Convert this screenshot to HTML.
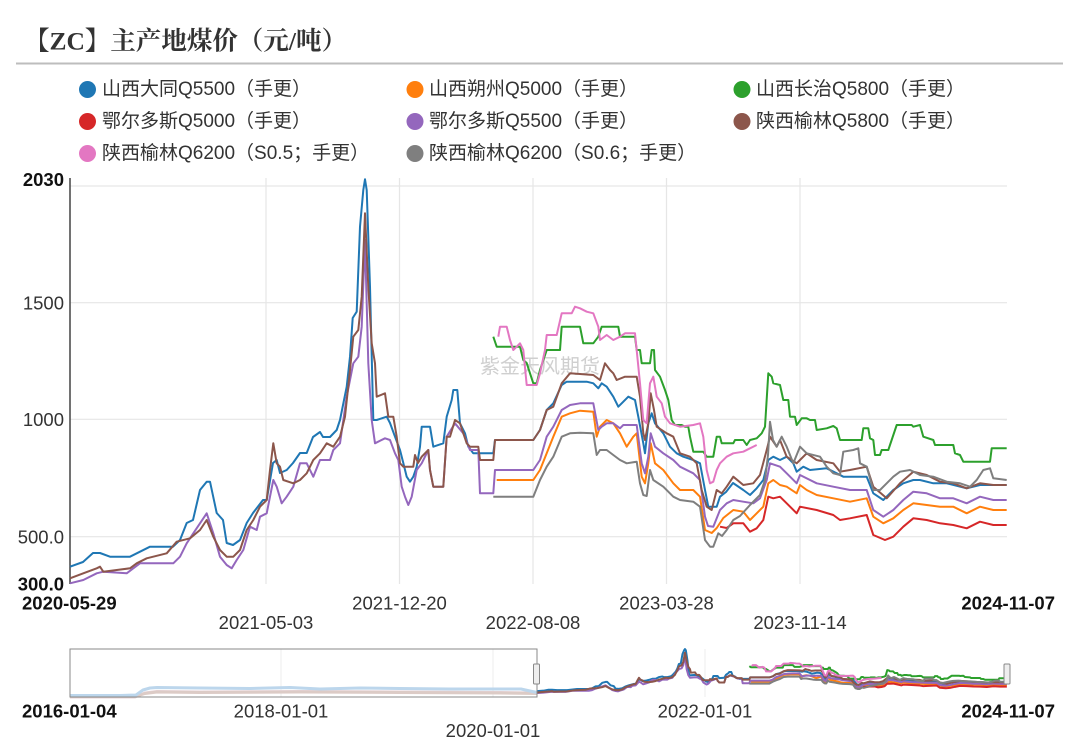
<!DOCTYPE html>
<html><head><meta charset="utf-8"><style>
html,body{margin:0;padding:0;background:#fff;}
svg{display:block;}
.t{font-family:"Liberation Sans","Noto Sans CJK SC",sans-serif;}
</style></head><body>
<svg width="1080" height="747" viewBox="0 0 1080 747" xmlns="http://www.w3.org/2000/svg">
<rect width="1080" height="747" fill="#fff"/>
<text x="24" y="41" dominant-baseline="central" font-family="'Liberation Serif','Noto Serif CJK SC',serif" font-weight="bold" font-size="25.5" fill="#333">【ZC】主产地煤价（元/吨）</text>
<line x1="16" y1="63.5" x2="1063" y2="63.5" stroke="#bdbdbd" stroke-width="2"/>

<g class="t" font-size="19" fill="#333" dominant-baseline="central">
<circle cx="87.5" cy="89.5" r="8.5" fill="#1f77b4"/><text x="102" y="89.5">山西大同Q5500（手更）</text>
<circle cx="415" cy="89.5" r="8.5" fill="#ff7f0e"/><text x="429" y="89.5">山西朔州Q5000（手更）</text>
<circle cx="742" cy="89.5" r="8.5" fill="#2ca02c"/><text x="756" y="89.5">山西长治Q5800（手更）</text>
<circle cx="87.5" cy="121.5" r="8.5" fill="#d62728"/><text x="102" y="121.5">鄂尔多斯Q5000（手更）</text>
<circle cx="415" cy="121.5" r="8.5" fill="#9467bd"/><text x="429" y="121.5">鄂尔多斯Q5500（手更）</text>
<circle cx="742" cy="121.5" r="8.5" fill="#8c564b"/><text x="756" y="121.5">陕西榆林Q5800（手更）</text>
<circle cx="87.5" cy="153.5" r="8.5" fill="#e377c2"/><text x="102" y="153.5">陕西榆林Q6200（S0.5；手更）</text>
<circle cx="415" cy="153.5" r="8.5" fill="#7f7f7f"/><text x="429" y="153.5">陕西榆林Q6200（S0.6；手更）</text>
</g>

<!-- gridlines -->
<g stroke="#e6e6e6" stroke-width="1.2">
<line x1="70" y1="186" x2="1007" y2="186"/>
<line x1="70" y1="302.7" x2="1007" y2="302.7"/>
<line x1="70" y1="419.3" x2="1007" y2="419.3"/>
<line x1="70" y1="536.7" x2="1007" y2="536.7"/>
<line x1="266" y1="178" x2="266" y2="584"/>
<line x1="399.5" y1="178" x2="399.5" y2="584"/>
<line x1="533" y1="178" x2="533" y2="584"/>
<line x1="666.5" y1="178" x2="666.5" y2="584"/>
<line x1="800" y1="178" x2="800" y2="584"/>
</g>
<line x1="70" y1="178" x2="70" y2="584" stroke="#444" stroke-width="1.5"/>

<text x="540" y="367" text-anchor="middle" dominant-baseline="central" font-family="'Liberation Sans','Noto Sans CJK SC',sans-serif" font-size="20" fill="#cfcfcf">紫金天风期货</text>

<g class="t" font-size="18.5" dominant-baseline="central">
<text x="64" y="179.5" text-anchor="end" font-weight="bold" fill="#111">2030</text>
<text x="64" y="303" text-anchor="end" fill="#333">1500</text>
<text x="64" y="419.5" text-anchor="end" fill="#333">1000</text>
<text x="64" y="537" text-anchor="end" fill="#333">500.0</text>
<text x="64" y="584" text-anchor="end" font-weight="bold" fill="#111">300.0</text>
<text x="22" y="603" font-weight="bold" fill="#111">2020-05-29</text>
<text x="266" y="622.5" text-anchor="middle" fill="#333">2021-05-03</text>
<text x="399.5" y="603" text-anchor="middle" fill="#333">2021-12-20</text>
<text x="533" y="622.5" text-anchor="middle" fill="#333">2022-08-08</text>
<text x="666.5" y="603" text-anchor="middle" fill="#333">2023-03-28</text>
<text x="800" y="622.5" text-anchor="middle" fill="#333">2023-11-14</text>
<text x="1055" y="603" text-anchor="end" font-weight="bold" fill="#111">2024-11-07</text>
<text x="22" y="711" font-weight="bold" fill="#111">2016-01-04</text>
<text x="281" y="711" text-anchor="middle" fill="#333">2018-01-01</text>
<text x="493" y="730.5" text-anchor="middle" fill="#333">2020-01-01</text>
<text x="705" y="711" text-anchor="middle" fill="#333">2022-01-01</text>
<text x="1055" y="711" text-anchor="end" font-weight="bold" fill="#111">2024-11-07</text>
</g>

<g id="series" fill="none" stroke-width="2" stroke-linejoin="round">
<polyline vector-effect="non-scaling-stroke" stroke="#1f77b4" points="70,566.7 83,562 93,553 100,553 110,556.7 130,556.7 150,546.7 173,546.7 180,540 186.7,523 193,520 200,490 206.7,481.7 210,481.7 216.7,513 223,520 226.7,543 233,545 240,540 246.7,523 253,513 263,500 266.7,500 273,463 276.7,460 280,473 286.7,470 293,463 300,453 306.7,453 313,437 320,432 323,437 330,437 336.7,430 340,420 346.7,386.7 350,356.7 352.7,318 356.7,311.7 360,226.7 363.3,190 365,179.3 366.7,190 370,286.7 373.3,420 376.7,420 386.7,416.7 390,423 395,436.7 400,450 403.3,463 406.7,476.7 410,481.7 413.3,476.7 416.7,466.7 420,446.7 421.7,426.7 430,426.7 433.3,446.7 443.3,443.3 446.7,416.7 451.7,400 453.3,390 457.3,390 460,423.3 465,433.3 468.3,446.7 473.3,453.3 478.3,453.3 493.3,453.3 495,440 533.3,440 540,430 546.7,410 553.3,403.3 561.7,385 566.7,381.7 586.7,381.7 593.3,383.3 598.3,388.3 601.7,383.3 606.7,386.7 613.3,396.7 618.3,406.7 621.7,403.3 628.3,396.7 635,400 638.3,416.7 643.3,443.3 645,453.3 648.3,423.3 651.7,413.3 655,423.3 663.3,433.3 670,446.7 676.7,453.3 683.3,456.7 693.3,460 700,463.3 705,490 708.3,506.7 716.7,506.7 720,496.7 726,492 733,483 743.3,490 750,495 756.7,488.3 763.3,480 768.3,460 773.3,456.7 780,460 786.7,456.7 793.3,463.3 796.7,471.7 803.3,466.7 810,470 826.7,468.3 836.7,473.3 843.3,476.7 866.7,476.7 873.3,493.3 883.3,500 893.3,490 903.3,483.3 913.3,480 920,480 933.3,483.3 946.7,483.3 966.7,488.3 980,485 993.3,485 1006.7,485"/>
<polyline vector-effect="non-scaling-stroke" stroke="#ff7f0e" points="496.7,480 533.3,480 540,470 546.7,453.3 553.3,436.7 561.7,416.7 570,413.3 580,410.7 593.3,411.7 596.7,436.7 600,426.7 606.7,420 613.3,423.3 620,433.3 626.7,446.7 633.3,436.7 636.7,433.3 641.7,476.7 645,483.3 648.3,463.3 650.7,443.3 655,463.3 663.3,470 673.3,483.3 680,490 693.3,490 700,496.7 705,530 711.7,533 716.7,528 723.3,518 733.3,510 743.3,511.7 750,520 756.7,513.3 763.3,506.7 768.3,483.3 773.3,480 780,485 786.7,486.7 796.7,493.3 800,485 806.7,490 816.7,495 833.3,498.3 850,501.7 866.7,498.3 873.3,516.7 883.3,523.3 893.3,518.3 903.3,510 913.3,503.3 926.7,505 940,506.7 953.3,506.7 966.7,513.3 980,506.7 993.3,510 1006.7,510"/>
<polyline vector-effect="non-scaling-stroke" stroke="#2ca02c" points="493.3,336.7 496.7,346.7 520,346.7 523.3,360 526.7,363 530,373.3 533.3,383.3 536.7,383.3 540,370 546.7,350 560,350 561.7,326.7 580,326.7 583.3,343.3 593.3,343.3 598.3,336.7 601.7,326.7 618.3,326.7 620,336.7 635,336.7 636.7,350 640,350 641.7,363.3 650,363.3 651.7,350 654,350 655,370 660,376.7 665,390 668.3,400 671.7,420 675,425 681.7,425 685,426.7 688.3,426.7 690,436.7 693.3,451.7 703.3,451.7 706.7,456.7 713.3,456.7 716.7,436.7 720,436.7 721.7,443.3 733.3,443.3 735,440 743.3,440 746.7,445 750,440 756.7,438.3 761.7,433.3 765,426.7 768.3,373.3 771.7,376.7 773.3,383.3 780,385 783.3,400 788.3,400 790,416.7 795,416.7 796.7,425 801.7,418.3 806.7,418.3 810,420 815,420 816.7,430 826.7,428.3 833.3,426 836.7,428.3 840,440 861.7,440 863.3,428.3 868.3,428.3 870,438.3 873.3,440 875,455 880,455 881.7,450 888.3,450 896.7,425 911.7,425 913.3,426.7 920,425 923.3,436.7 933.3,440 935,445 953.3,445 955,453.3 960,455 963.3,461.7 990,461.7 991.7,448.3 1006.7,448.3"/>
<polyline vector-effect="non-scaling-stroke" stroke="#d62728" points="720,526.7 726.7,528 733.3,523.3 743.3,523.3 750,531.7 756.7,528.3 763.3,520 768.3,496.7 773.3,498.3 780,496.7 786.7,503.3 796.7,513.3 800,506.7 816.7,510 833.3,515 840,520 850,518.3 866.7,515 873.3,535 885,540 893.3,536.7 903.3,526.7 913.3,518.3 926.7,520 940,523.3 953.3,525 966.7,528.3 980,521.7 993.3,525 1006.7,525"/>
<polyline vector-effect="non-scaling-stroke" stroke="#9467bd" points="70,583.3 83.3,580 96.7,573.3 103.3,571.7 126.7,573.3 133.3,568.3 140,563.3 173.3,563.3 180,556.7 186.7,543.3 193.3,533.3 200,523.3 206.7,513.3 213.3,533.3 220,556.7 226.7,565 231.7,568.3 236.7,560 243.3,550 250,526.7 256.7,530 260,516.7 266.7,513.3 273.3,480 276.7,486.7 281.7,503.3 286.7,496.7 293.3,486.7 300,463.3 306.7,463.3 313.3,476.7 320,460 330,460 333.3,450 340,443.3 346.7,396.7 353.3,363.3 358.3,356.7 361.7,326.7 365,240 368.3,363.3 371.7,420 375,443.3 385,438.3 390,440 395,453.3 398.3,460 401.7,486.7 405,496.7 408.3,505 411.7,496.7 416.7,470 421.7,463.3 428.3,450 430,470 433.3,486.7 443.3,486.7 446.7,436.7 455,423.3 463.3,433.3 470,450 478.3,450 480,493.3 493.3,493.3 495,470 533.3,470 540,460 546.7,436.7 553.3,426.7 561.7,410 570,405 580,403.3 593.3,403.3 598.3,430 601.7,426.7 606.7,423.3 613.3,423.3 620,428.3 623.3,425 636.7,425 641.7,463.3 645,473.3 648.3,456.7 650.7,433.3 655,446.7 663.3,453.3 673.3,460 680,466.7 693.3,473.3 700,480 705,516.7 708,526 713.3,526.7 720,510 726.7,503.3 733.3,500 743.3,501.7 753.3,503.3 760,498.3 766.7,480 770,463.3 780,466.7 786.7,473.3 796.7,483.3 800,475 816.7,483.3 833.3,486.7 850,490 866.7,490 873.3,510 883.3,516.7 893.3,510 903.3,500 913.3,491.7 926.7,493.3 940,498.3 953.3,498.3 966.7,503.3 980,496.7 993.3,500 1006.7,500"/>
<polyline vector-effect="non-scaling-stroke" stroke="#8c564b" points="70,578.3 83.3,573.3 96.7,568.3 100,566.7 103.3,571.7 116.7,570 130,568.3 136.7,563.3 146.7,558.3 166.7,553.3 176.7,541.7 190,538.3 200,530 206.7,520 213.3,536.7 220,550 226.7,556.7 233.3,556.7 240,550 246.7,530 253.3,520 260,506.7 266.7,500 270,470 273.3,443.3 276.7,463.3 280,466.7 283.3,480 293.3,483.3 300,480 306.7,473.3 313.3,460 320,453.3 326.7,443.3 333.3,446.7 340,436.7 345,416.7 350,370 353.3,336.7 358.3,330 361.7,296.7 365,213.3 368.3,286.7 371.7,343.3 375,363.3 376.7,396.7 385,393.3 388.3,416.7 393.3,416.7 396.7,436.7 400,463.3 403.3,466.7 413.3,466.7 415,455 418,463 421.7,456.7 428.3,450 430,470 433.3,486.7 443.3,486.7 446.7,436.7 450,436.7 455,420 460,423.3 466.7,443.3 470,446.7 478.3,446.7 480,460 493.3,460 495,440 533.3,440 540,430 546.7,410 553.3,406.7 561.7,383.3 570,373.3 593.3,375 600,380 605,363.3 610,370 613.3,373.3 616.7,380 625,376.7 636.7,376.7 640,396.7 643.3,433.3 645,440 648.3,423.3 650.7,393.3 654,410 656.7,426.7 666.7,433.3 673.3,436.7 680,453.3 690,456.7 696.7,463.3 701.7,490 706.7,506.7 711.7,510 716.7,490 721.7,493.3 726.7,486.7 733.3,476.7 743.3,485 753.3,483.3 760,475 766.7,450 770,436.7 776.7,446.7 780,440 786.7,456.7 796.7,463.3 800,460 806.7,453.3 816.7,460 833.3,463.3 840,471.7 850,470 866.7,466.7 873.3,486.7 886.7,498.3 900,483.3 913.3,471.7 926.7,475 940,481.7 953.3,483.3 966.7,488.3 980,483.3 993.3,485 1006.7,485"/>
<polyline vector-effect="non-scaling-stroke" stroke="#e377c2" points="498.3,336.7 500,326.7 506.7,326.7 510,340 513.3,350 516.7,346.7 520,343.3 523.3,350 526.7,385 536.7,385 540,373.3 545,350 546.7,335 556.7,335 561.7,313.3 571.7,313.3 575,306.7 580,308.3 586.7,311.7 593.3,313.3 598.3,326.7 600,340 606.7,335 613.3,340 620,336.7 625,333.3 635,333.3 640,383.3 643.3,420 646.7,423.3 650,383.3 653.3,376.7 656.7,396.7 661.7,403.3 665,416.7 670,423.3 680,426.7 693.3,425 700,423.3 703.3,436.7 706.7,470 710,483.3 713.3,481.7 716.7,470 720,463.3 726.7,456.7 733.3,453.3 743.3,451.7 750,448.3 756.7,445"/>
<polyline vector-effect="non-scaling-stroke" stroke="#7f7f7f" points="493.3,496.7 533.3,496.7 540,480 546.7,466.7 553.3,456.7 561.7,436.7 570,433.3 580,432.7 593.3,433.3 596.7,455 600,450 606.7,450 613.3,455 620,460 626.7,463.3 636.7,461.7 640,483.3 643.3,495 646.7,496 650,470 653.3,480 663.3,486.7 673.3,496.7 680,500 693.3,501.7 700,506.7 705,540 710,546.7 713.3,546.7 718.3,533.3 722,536 726.7,530 733.3,520 740,516 750,505 760,495 765,480 768,455 770,421.7 773,440 776.7,446.7 781.7,436.7 786.7,446.7 793.3,463.3 800,446.7 806.7,453.3 820,456.7 826.7,466.7 833.3,473.3 840,475 843.3,451.7 853.3,450 858.3,448.3 860,463.3 866.7,466.7 873.3,490 880,490 886.7,483.3 893.3,476.7 900,471.7 910,470 920,475 933.3,476.7 946.7,481.7 960,483.3 970,486.7 976.7,480 983.3,470 990,468.3 993.3,478.3 1006.7,480"/>
</g>

<!-- navigator -->
<g stroke="#eeeeee" stroke-width="1">
<line x1="281" y1="649" x2="281" y2="697"/>
<line x1="493" y1="649" x2="493" y2="697"/>
<line x1="705" y1="649" x2="705" y2="697"/>
</g>
<g fill="none" stroke-width="3" stroke-linejoin="round">
<polyline stroke="#e7d3d8" points="70,697 135,697 145,693 157,691.5 200,692 300,691.5 400,692 500,692.5 537,693"/>
<polyline stroke="#dccbc6" points="70,696.5 135,696.5 145,693.5 157,692 200,692.5 300,692 400,692.5 500,693 537,693.5"/>
<polyline stroke="#bcd6ec" points="70,695.5 120,695.5 136,695 143,690 150,688 157,687.5 200,688 250,688.5 290,687.5 320,689 360,688 400,688.5 450,689 500,689 521,689 530,691 537,692.5"/>
</g>
<use href="#series" transform="translate(537,649) scale(0.5016,0.1088) translate(-70,-179)"/>
<rect x="70" y="649" width="467" height="48" fill="none" stroke="#8a8a8a" stroke-width="1"/>
<rect x="533.5" y="664" width="6" height="20" rx="1" fill="#eeeeee" stroke="#888" stroke-width="1"/>
<rect x="1004" y="664" width="6" height="20" rx="1" fill="#eeeeee" stroke="#888" stroke-width="1"/>
</svg>
</body></html>
